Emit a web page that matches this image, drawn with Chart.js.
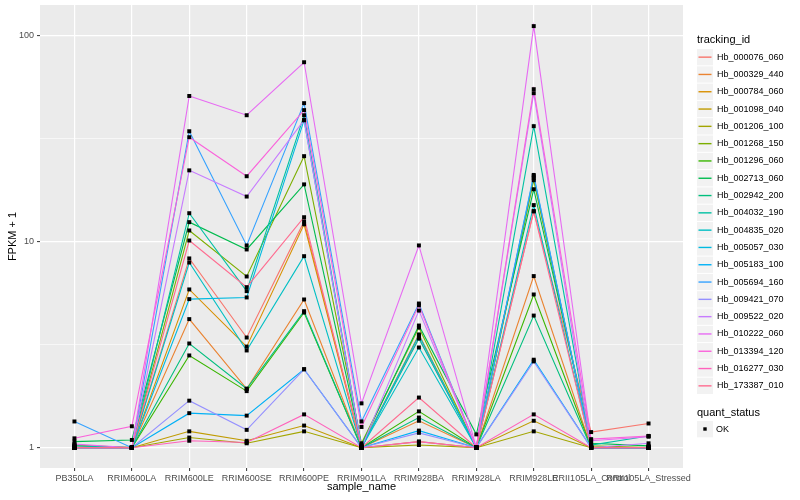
<!DOCTYPE html>
<html>
<head>
<meta charset="utf-8">
<script src="https://cdn.jsdelivr.net/npm/chart.js@4/dist/chart.umd.min.js"></script>
<style>
  html, body { margin: 0; padding: 0; background: #fff; }
</style>
</head>
<body>
<canvas id="my" width="800" height="500"></canvas>
<script>
// samples on the x axis
const sampleNames = ["PB350LA", "RRIM600LA", "RRIM600LE", "RRIM600SE", "RRIM600PE", "RRIM901LA",
  "RRIM928BA", "RRIM928LA", "RRIM928LE", "RRII105LA_Control", "RRII105LA_Stressed"];

const trackingIds = ["Hb_000076_060", "Hb_000329_440", "Hb_000784_060", "Hb_001098_040", "Hb_001206_100",
  "Hb_001268_150", "Hb_001296_060", "Hb_002713_060", "Hb_002942_200", "Hb_004032_190",
  "Hb_004835_020", "Hb_005057_030", "Hb_005183_100", "Hb_005694_160", "Hb_009421_070",
  "Hb_009522_020", "Hb_010222_060", "Hb_013394_120", "Hb_016277_030", "Hb_173387_010"];

const hueColors = ["#F8766D", "#EA8331", "#D89000", "#C09B00", "#A3A500", "#7CAE00", "#39B600", "#00BB4E",
  "#00BF7D", "#00C1A3", "#00BFC4", "#00BAE0", "#00B0F6", "#35A2FF", "#9590FF", "#C77CFF",
  "#E76BF3", "#FA62DB", "#FF62BC", "#FF6C90"];

// FPKM + 1, one array per tracking id (same order as sampleNames)
const hb000076 = [1.02, 1.0, 8.27, 3.42, 12.5, 1.02, 3.4, 1.0, 14.0, 1.19, 1.31];
const hb000329 = [1.0, 1.0, 4.2, 1.93, 5.23, 1.0, 1.35, 1.0, 6.79, 1.0, 1.0];
const hb000784 = [1.0, 1.0, 5.85, 3.09, 12.1, 1.0, 3.54, 1.0, 20.2, 1.0, 1.0];
const hb001098 = [1.0, 1.0, 1.2, 1.08, 1.28, 1.0, 1.07, 1.0, 1.35, 1.0, 1.0];
const hb001206 = [1.0, 1.0, 1.12, 1.05, 1.2, 1.0, 1.03, 1.0, 1.2, 1.0, 1.0];
const hb001268 = [1.03, 1.0, 11.3, 6.76, 25.9, 1.05, 3.82, 1.0, 19.8, 1.02, 1.0];
const hb001296 = [1.0, 1.0, 2.8, 1.88, 4.52, 1.0, 1.5, 1.0, 5.53, 1.0, 1.0];
const hb002713 = [1.07, 1.09, 12.4, 9.14, 18.9, 1.03, 3.91, 1.16, 17.9, 1.05, 1.02];
const hb002942 = [1.0, 1.0, 3.2, 1.93, 4.59, 1.0, 1.4, 1.0, 4.37, 1.0, 1.0];
const hb004032 = [1.02, 1.0, 13.7, 5.74, 40.9, 1.0, 3.38, 1.0, 36.2, 1.03, 1.14];
const hb004835 = [1.0, 1.0, 7.9, 2.96, 8.48, 1.0, 3.06, 1.0, 15.0, 1.0, 1.0];
const hb005057 = [1.0, 1.0, 5.25, 5.35, 38.7, 1.0, 3.5, 1.0, 20.7, 1.0, 1.0];
const hb005183 = [1.0, 1.0, 1.47, 1.43, 2.4, 1.0, 1.21, 1.0, 2.67, 1.0, 1.0];
const hb005694 = [1.34, 1.0, 34.2, 9.56, 46.8, 1.34, 5.0, 1.0, 21.0, 1.0, 1.0];
const hb009421 = [1.0, 1.0, 1.69, 1.22, 2.4, 1.0, 1.18, 1.0, 2.62, 1.0, 1.0];
const hb009522 = [1.0, 1.0, 22.1, 16.5, 38.7, 1.0, 4.62, 1.0, 52.3, 1.0, 1.05];
const hb010222 = [1.04, 1.0, 50.7, 40.9, 73.9, 1.64, 9.56, 1.0, 110.6, 1.08, 1.13];
const hb013394 = [1.11, 1.27, 32.0, 20.7, 43.3, 1.26, 4.9, 1.0, 54.7, 1.1, 1.14];
const hb016277 = [1.0, 1.0, 1.08, 1.06, 1.45, 1.0, 1.07, 1.0, 1.45, 1.0, 1.0];
const hb173387 = [1.0, 1.0, 10.1, 6.0, 13.1, 1.0, 1.75, 1.0, 14.0, 1.0, 1.0];

const seriesValues = [hb000076, hb000329, hb000784, hb001098, hb001206, hb001268, hb001296, hb002713,
  hb002942, hb004032, hb004835, hb005057, hb005183, hb005694, hb009421, hb009522,
  hb010222, hb013394, hb016277, hb173387];

// y axis breaks
const yMajorTicks = [1, 10, 100];
const yMinorTicks = [3.1623, 31.623];

Chart.defaults.font.family = "'Liberation Sans', Arial, sans-serif";

function toPoints(values) {
  return values.map((v, i) => ({ x: i, y: v }));
}

const datasets = [];
// lines first (ggplot draws lines under the points, later groups on top)
seriesValues.forEach((vals, i) => {
  datasets.push({
    label: trackingIds[i],
    data: toPoints(vals),
    borderColor: hueColors[i],
    backgroundColor: hueColors[i],
    borderWidth: 1.1,
    pointRadius: 0,
    tension: 0,
    order: 100 - i
  });
});
// black square points for quant_status OK
seriesValues.forEach((vals, i) => {
  datasets.push({
    label: 'OK_' + i,
    data: toPoints(vals),
    showLine: false,
    pointStyle: 'rect',
    pointRadius: 2.8,
    pointBorderWidth: 0,
    pointBackgroundColor: '#000',
    borderColor: '#000',
    order: 0
  });
});

const panelBackground = {
  id: 'panelBackground',
  beforeDraw(chart) {
    const { ctx, chartArea: a } = chart;
    ctx.save();
    ctx.fillStyle = '#EBEBEB';
    ctx.fillRect(a.left, a.top, a.right - a.left, a.bottom - a.top);
    ctx.restore();
  }
};

// ggplot style legends on the right
const ggLegend = {
  id: 'ggLegend',
  afterDraw(chart) {
    const ctx = chart.ctx;
    const x0 = 697;
    ctx.save();
    ctx.textBaseline = 'middle';
    ctx.textAlign = 'left';
    ctx.fillStyle = '#000';
    ctx.font = "11px 'Liberation Sans', Arial, sans-serif";
    ctx.fillText('tracking_id', x0, 40);
    const step = 17.3;
    for (let i = 0; i < trackingIds.length; i++) {
      const top = 49 + step * i;
      ctx.fillStyle = '#F2F2F2';
      ctx.fillRect(x0, top, 16, 16.3);
      const cy = top + 8.15;
      ctx.strokeStyle = hueColors[i];
      ctx.lineWidth = 1.4;
      ctx.beginPath();
      ctx.moveTo(x0 + 1.5, cy);
      ctx.lineTo(x0 + 14.5, cy);
      ctx.stroke();
      ctx.fillStyle = '#000';
      ctx.font = "9px 'Liberation Sans', Arial, sans-serif";
      ctx.fillText(trackingIds[i], x0 + 20, cy);
    }
    ctx.font = "11px 'Liberation Sans', Arial, sans-serif";
    ctx.fillText('quant_status', x0, 413);
    ctx.fillStyle = '#F2F2F2';
    ctx.fillRect(x0, 421, 16, 16.3);
    ctx.fillStyle = '#000';
    ctx.fillRect(x0 + 6.3, 427.3, 3.4, 3.4);
    ctx.font = "9px 'Liberation Sans', Arial, sans-serif";
    ctx.fillText('OK', x0 + 19, 429.5);
    ctx.restore();
  }
};

new Chart(document.getElementById('my').getContext('2d'), {
  type: 'line',
  data: { datasets: datasets },
  options: {
    responsive: false,
    animation: false,
    devicePixelRatio: 1,
    layout: { padding: { top: 5, right: 117, left: 0, bottom: 0 } },
    plugins: {
      legend: { display: false },
      tooltip: { enabled: false }
    },
    scales: {
      x: {
        type: 'linear',
        min: -0.6,
        max: 10.6,
        afterBuildTicks: (scale) => {
          scale.ticks = sampleNames.map((n, i) => ({ value: i }));
        },
        afterFit: (scale) => {
          scale.height = 32;
          scale.paddingLeft = 0;
          scale.paddingRight = 0;
        },
        ticks: {
          autoSkip: false,
          maxRotation: 0,
          minRotation: 0,
          padding: 2,
          color: '#4D4D4D',
          font: { size: 9 },
          callback: (v) => sampleNames[v]
        },
        grid: {
          color: '#FFFFFF',
          lineWidth: 1.2,
          tickLength: 3,
          tickColor: '#333333',
          tickWidth: 1
        },
        border: { display: false },
        title: {
          display: true,
          text: 'sample_name',
          color: '#000',
          font: { size: 11 },
          padding: { top: 0, bottom: 6 }
        }
      },
      y: {
        type: 'logarithmic',
        min: 0.797,
        max: 140,
        afterBuildTicks: (scale) => {
          const vals = yMajorTicks.concat(yMinorTicks).sort((a, b) => a - b);
          scale.ticks = vals.map(v => ({ value: v }));
        },
        afterFit: (scale) => {
          scale.width = 40;
          scale.paddingTop = 0;
          scale.paddingBottom = 0;
        },
        ticks: {
          padding: 3,
          color: '#4D4D4D',
          font: { size: 9 },
          callback: (v) => yMajorTicks.includes(v) ? String(v) : ''
        },
        grid: {
          color: '#FFFFFF',
          lineWidth: (c) => (c.tick && yMinorTicks.includes(c.tick.value)) ? 0.6 : 1.2,
          tickLength: 3,
          tickColor: (c) => (c.tick && yMinorTicks.includes(c.tick.value)) ? 'rgba(0,0,0,0)' : '#333333',
          tickWidth: 1
        },
        border: { display: false },
        title: {
          display: true,
          text: 'FPKM + 1',
          color: '#000',
          font: { size: 11 },
          padding: { top: 6, bottom: 0 }
        }
      }
    }
  },
  plugins: [panelBackground, ggLegend]
});
</script>
</body>
</html>
